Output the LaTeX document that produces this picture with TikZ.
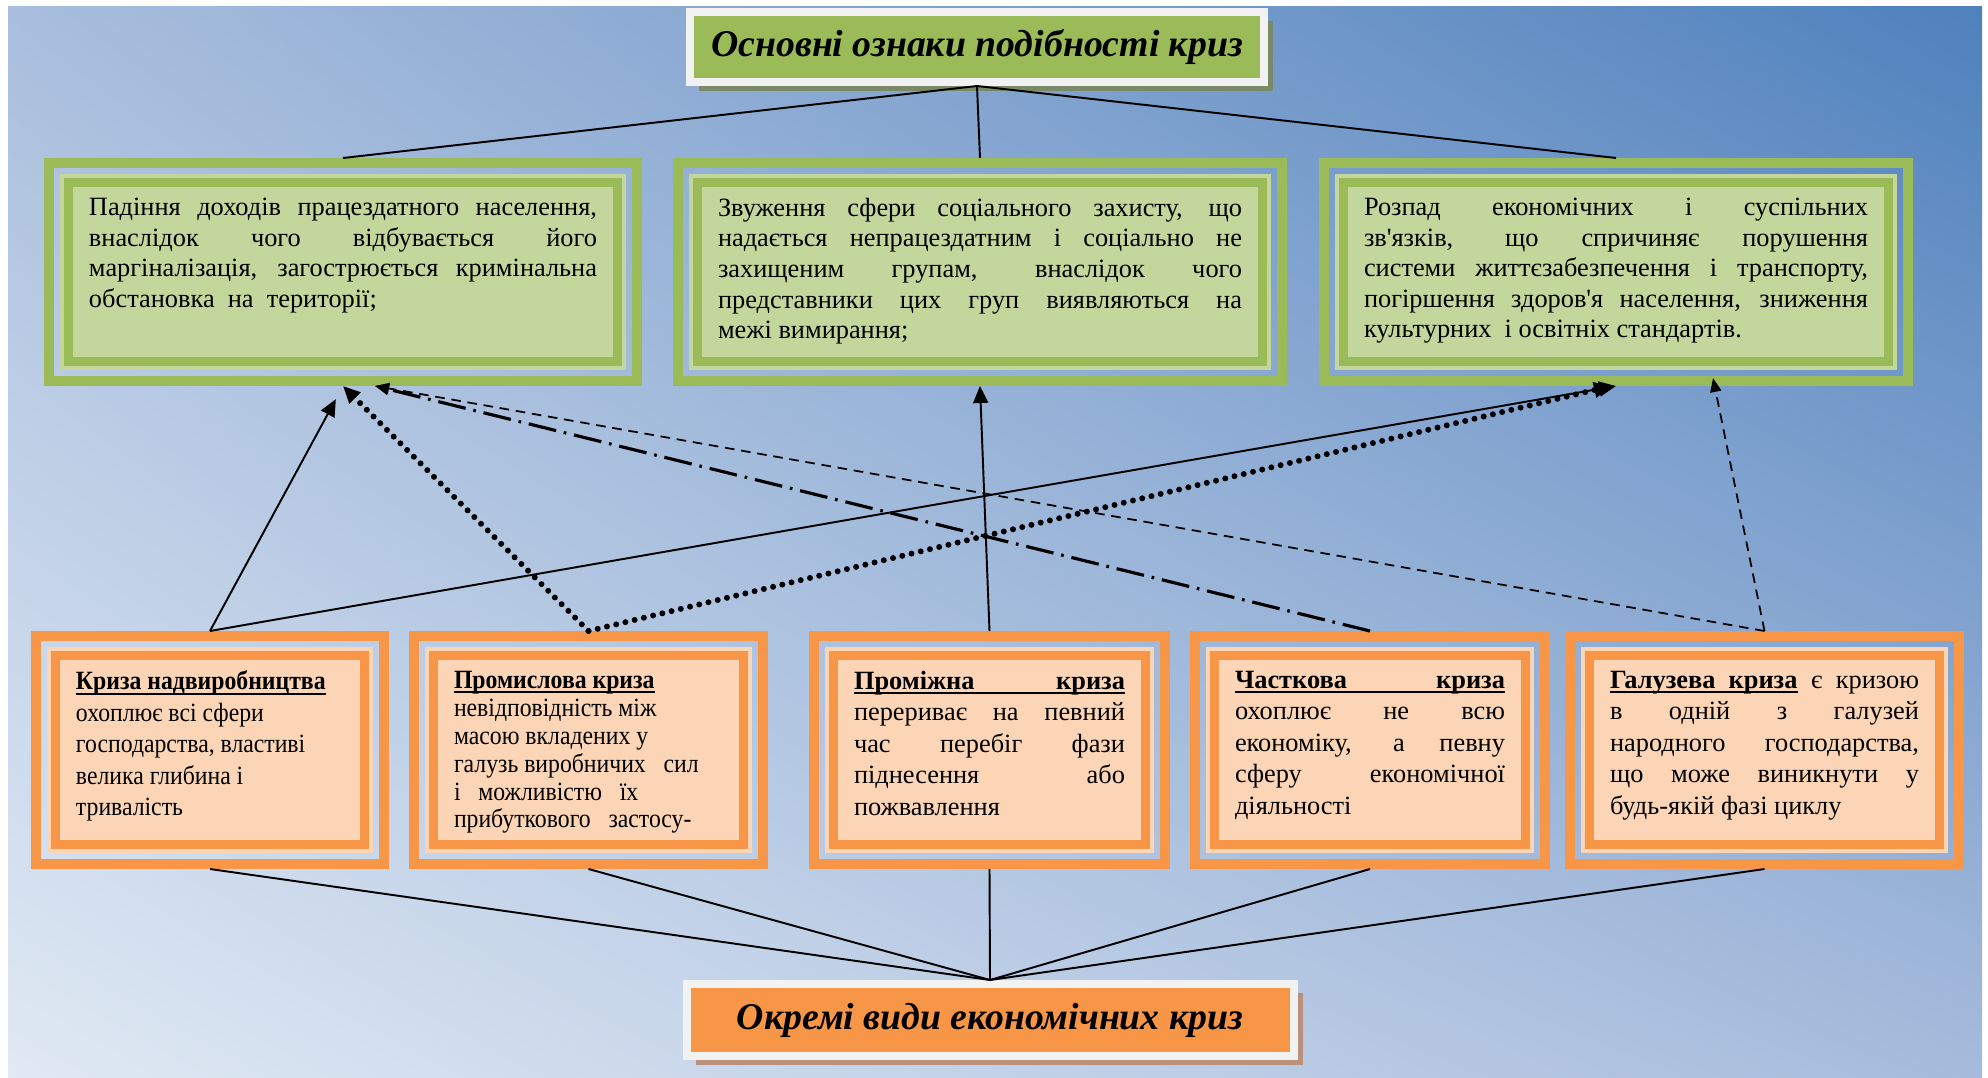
\documentclass[tikz,border=0pt]{standalone}
\usepackage{fontspec}
\setmainfont{Liberation Serif}
\newfontfamily\narrowserif[FakeStretch=0.9]{Liberation Serif}
\usetikzlibrary{arrows.meta,shadows,shadings}

\definecolor{dgreen}{HTML}{9BBB59}
\definecolor{lgreen}{HTML}{C3D69B}
\definecolor{orng}{HTML}{F79646}
\definecolor{peach}{HTML}{FBD5B5}
\definecolor{tframe}{HTML}{F2F2F2}
\definecolor{gshadow}{HTML}{7A8A68}
\definecolor{oshadow}{HTML}{B8927C}
\definecolor{bgul}{HTML}{A9BEDD}
\definecolor{bgur}{HTML}{4F81BD}
\definecolor{bgll}{HTML}{E0E9F4}
\definecolor{bglr}{HTML}{A6BBDC}

\newcommand{\gtext}[2]{\parbox[c][2.96cm][t]{#1}{\fontsize{15}{17.4}\selectfont
	\tolerance=10000\hbadness=10000\hyphenpenalty=10000 #2}}
\newcommand{\otext}[3]{\parbox[c][3.16cm][t]{#1}{\fontsize{15}{#2}\selectfont
	\tolerance=10000\hbadness=10000\hyphenpenalty=10000 #3}}
\newcommand{\ulbox}[1]{\leavevmode\setbox0\hbox{#1}\rlap{\rule[-2.8pt]{\wd0}{1.1pt}}\box0\relax}

\begin{document}
\begin{tikzpicture}[x=0.2mm,y=-0.2mm,
		gouter/.style={draw=dgreen, line width=2mm, inner sep=0pt, minimum height=4.36cm},
		gbox/.style={fill=lgreen, draw=dgreen, line width=1.8mm,
			preaction={draw=lgreen, line width=3.4mm}, inner xsep=0.41cm, inner ysep=0.31cm},
		oouter/.style={draw=orng, line width=2mm, inner sep=0pt, minimum height=4.56cm},
		obox/.style={fill=peach, draw=orng, line width=1.8mm,
			preaction={draw=peach, line width=3.4mm}, inner xsep=0.41cm, inner ysep=0.31cm},
		ttl/.style={draw=tframe, line width=1.6mm, inner sep=0pt,
			font=\fontsize{21.5}{25}\selectfont\bfseries\itshape},
		link/.style={line width=1.1pt},
		arr/.style={-{Triangle[length=0.34cm,width=0.3cm]}},
		arrs/.style={-{Triangle[length=0.28cm,width=0.22cm]}},
		dotline/.style={line width=3.4pt, line cap=round, dash pattern=on 0pt off 5.4pt},
		dashdotline/.style={line width=1.8pt, dash pattern=on 16pt off 4.5pt on 1.5pt off 4.5pt},
		dashline/.style={line width=1pt, dash pattern=on 5.5pt off 3.8pt}]

	% background
	\fill[white] (0,0) rectangle (1988,1078);
	\shade[upper left=bgul, upper right=bgur, lower left=bgll, lower right=bglr] (8,6) rectangle (1982,1078);

	% titles
	\node[ttl, fill=dgreen, minimum width=11.48cm, minimum height=1.4cm,
		drop shadow={fill=gshadow, opacity=1, shadow xshift=0.18cm, shadow yshift=-0.18cm}]
		(sim) at (977,47) {Основні ознаки подібності криз};
	\node[ttl, fill=orng, minimum width=12.14cm, minimum height=1.44cm,
		drop shadow={fill=oshadow, opacity=1, shadow xshift=0.18cm, shadow yshift=-0.18cm}]
		(vydy) at (990,1020) {Окремі види економічних криз};

	% common features
	\node[gouter, minimum width=11.76cm] (pad) at (343,272) {};
	\node[gbox] (padt) at (pad.center) {\gtext{10.16cm}{Падіння доходів працездатного населення,\linebreak
		внаслідок чого відбувається його\linebreak
		маргіналізація, загострюється кримінальна\linebreak
		обстановка\ \ на\ \ території;}};

	\node[gouter, minimum width=12.08cm] (zvu) at (980,272) {};
	\node[gbox] (zvut) at (zvu.center) {\gtext{10.48cm}{Звуження сфери соціального захисту, що\linebreak
		надається непрацездатним і соціально не\linebreak
		захищеним групам, внаслідок чого\linebreak
		представники цих груп виявляються на\linebreak
		межі вимирання;}};

	\node[gouter, minimum width=11.68cm] (roz) at (1616,272) {};
	\node[gbox] (rozt) at (roz.center) {\gtext{10.08cm}{Розпад економічних і суспільних\linebreak
		зв\textquotesingle язків, що спричиняє порушення\linebreak
		системи життєзабезпечення і транспорту,\linebreak
		погіршення здоров\textquotesingle я населення, зниження\linebreak
		культурних\ \ і освітніх стандартів.}};

	% kinds of crises
	\node[oouter, minimum width=6.96cm] (nadv) at (210,750) {};
	\node[obox] (nadvt) at (nadv.center) {\otext{5.36cm}{17.9}{\narrowserif\raggedright
		\ulbox{\textbf{Криза надвиробництва}}\\
		охоплює всі сфери\\
		господарства, властиві\\
		велика глибина і\\
		тривалість}};

	\node[oouter, minimum width=6.98cm] (prom) at (588.5,750) {};
	\node[obox] (promt) at (prom.center) {\otext{5.38cm}{15.9}{\narrowserif\raggedright
		\ulbox{\textbf{Промислова криза}}\\
		невідповідність між\\
		масою вкладених у\\
		галузь виробничих~~~сил\\
		і~~~можливістю~~~їх\\
		прибуткового~~~застосу-}};

	\node[oouter, minimum width=7.02cm] (prmz) at (989.5,750) {};
	\node[obox] (prmzt) at (prmz.center) {\otext{5.42cm}{17.9}{%
		\ulbox{\makebox[\linewidth][s]{\textbf{Проміжна криза}}}\\
		перериває на певний\linebreak
		час перебіг фази\linebreak
		піднесення або\linebreak
		пожвавлення}};

	\node[oouter, minimum width=7cm] (chas) at (1370,750) {};
	\node[obox] (chast) at (chas.center) {\otext{5.4cm}{17.9}{%
		\ulbox{\makebox[\linewidth][s]{\textbf{Часткова криза}}}\\
		охоплює не всю\linebreak
		економіку, а певну\linebreak
		сферу економічної\linebreak
		діяльності}};

	\node[oouter, minimum width=7.78cm] (galz) at (1764.5,750) {};
	\node[obox] (galzt) at (galz.center) {\otext{6.18cm}{17.9}{%
		\ulbox{\textbf{Галузева\ \ криза}} є кризою\linebreak
		в одній з галузей\linebreak
		народного господарства,\linebreak
		що може виникнути у\linebreak
		будь-якій фазі циклу}};

	% connectors
	\draw[link] (sim.south) -- (pad.north);
	\draw[link] (sim.south) -- (zvu.north);
	\draw[link] (sim.south) -- (roz.north);

	\draw[link] (nadv.south) -- (vydy.north);
	\draw[link] (prom.south) -- (vydy.north);
	\draw[link] (prmz.south) -- (vydy.north);
	\draw[link] (chas.south) -- (vydy.north);
	\draw[link] (galz.south) -- (vydy.north);

	\draw[link, arr, shorten >=0.3cm] (nadv.north) -- (pad.south);
	\draw[link, arr] (nadv.north) -- (roz.south);
	\draw[dotline, arr] (prom.north) -- (pad.south);
	\draw[dotline, arr] (prom.north) -- ([xshift=-0.1cm]roz.south);
	\draw[link, arr] (prmz.north) -- (zvu.south);
	\draw[dashdotline, arrs] (chas.north) -- ([xshift=0.64cm]pad.south);
	\draw[dashline, arrs] (galz.north) -- ([xshift=0.64cm]pad.south);
	\draw[dashline, arrs] (galz.north) -- ([xshift=1.94cm,yshift=0.16cm]roz.south);
\end{tikzpicture}
\end{document}
